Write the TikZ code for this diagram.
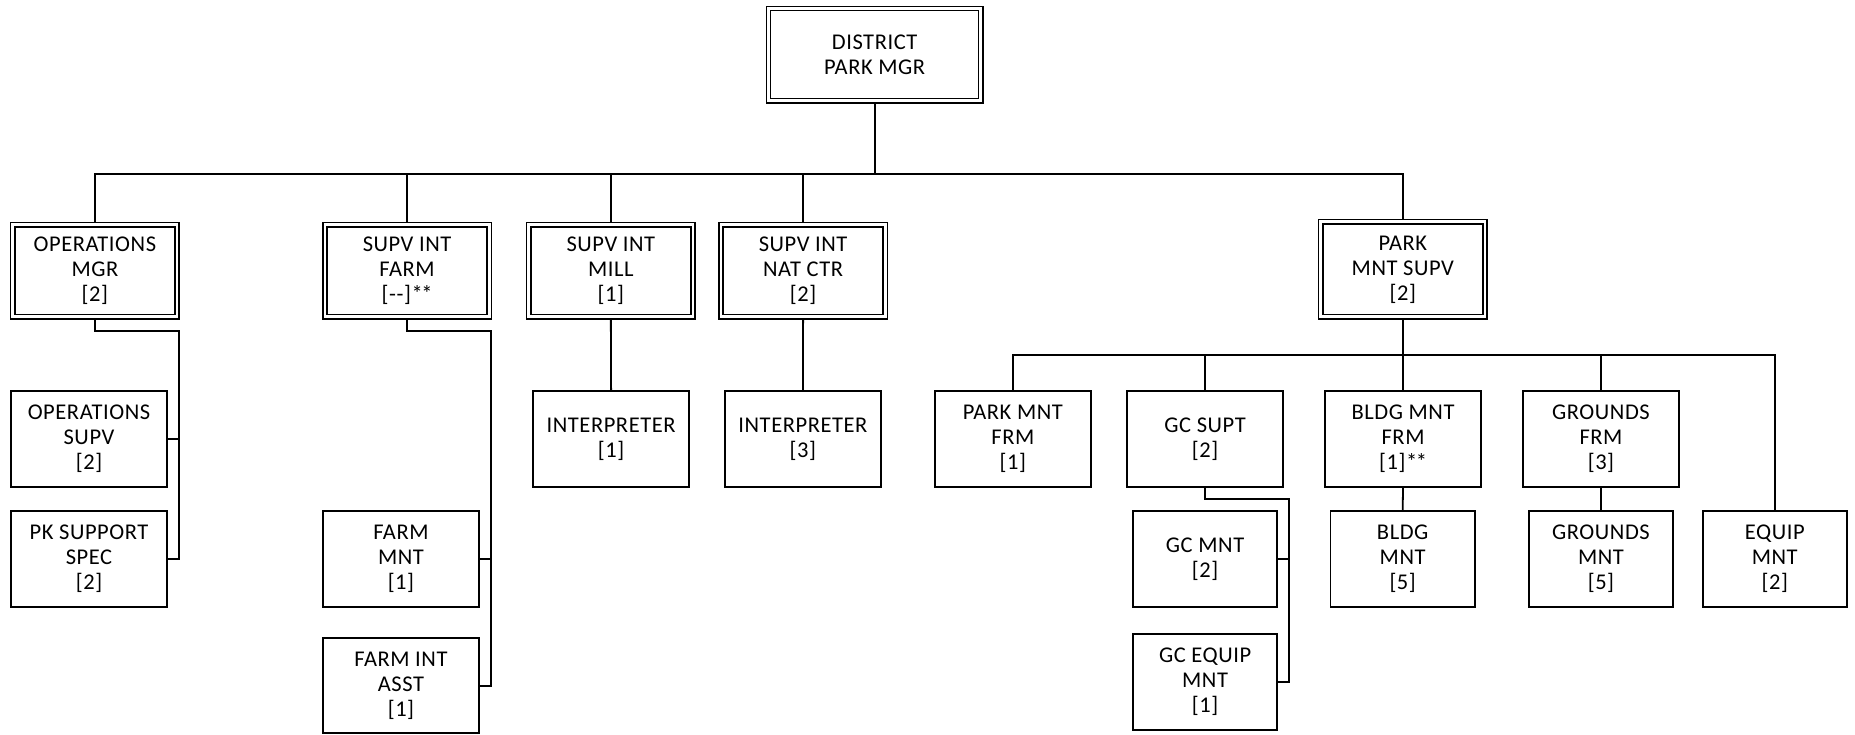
\documentclass[tikz,border=0pt]{standalone}
\usepackage{fontspec}
\setmainfont{Carlito}[LetterSpace=2.5]
\newcommand{\stars}{*\kern-1.5pt*}
\begin{document}
\begin{tikzpicture}[x=1pt,y=-1pt,
  every node/.style={font=\fontsize{22.5}{25}\selectfont, align=center},
  unit/.style={draw, line width=1.8pt, inner sep=0pt, fill=white,
               minimum width=156.3pt, minimum height=96pt},
  narrow/.style={unit, minimum width=144.2pt},
  head/.style={draw, line width=1.5pt, double, double distance=2.8pt,
               inner sep=0pt, minimum width=164.1pt, minimum height=92pt,
               outer sep=2.9pt},
  link/.style={line width=1.8pt}]
\useasboundingbox (0,0) rectangle (1855,734);

% top of the chart
\node[head, minimum width=212.4pt, minimum height=92.4pt] (dpm) at (874.65,54.65) {DISTRICT\\PARK MGR};

% second tier (supervisors)
\node[head] (opsmgr) at (94.9,270.85)  {OPERATIONS\\MGR\\{[2]}};
\node[head] (farm)   at (407.1,270.85) {SUPV INT\\FARM\\{[-{}-]\stars}};
\node[head] (mill)   at (610.85,270.85) {SUPV INT\\MILL\\{[1]}};
\node[head] (natctr) at (803.1,270.85) {SUPV INT\\NAT CTR\\{[2]}};
\node[head, minimum height=95pt] (pms) at (1402.85,269.35) {PARK\\MNT SUPV\\{[2]}};

% third tier
\node[unit] (opssupv) at (89,439)      {OPERATIONS\\SUPV\\{[2]}};
\node[unit] (intmill) at (611.1,439)   {INTERPRETER\\{[1]}};
\node[unit] (intnat)  at (802.9,439)   {INTERPRETER\\{[3]}};
\node[unit] (pmfrm)   at (1012.85,439) {PARK MNT\\FRM\\{[1]}};
\node[unit] (gcsupt)  at (1205.05,439) {GC SUPT\\{[2]}};
\node[unit] (bldgfrm) at (1403.05,439) {BLDG MNT\\FRM\\{[1]\stars}};
\node[unit] (grfrm)   at (1600.95,439) {GROUNDS\\FRM\\{[3]}};

% fourth tier
\node[unit] (pkspec)   at (89,558.85)     {PK SUPPORT\\SPEC\\{[2]}};
\node[unit] (farmmnt)  at (400.95,558.85) {FARM\\MNT\\{[1]}};
\node[narrow] (gcmnt)  at (1205.1,558.85) {GC MNT\\{[2]}};
\node[narrow] (bldgmnt) at (1402.65,558.85) {BLDG\\MNT\\{[5]}};
\node[narrow] (grmnt)  at (1600.95,558.85) {GROUNDS\\MNT\\{[5]}};
\node[narrow] (equip)  at (1774.75,558.85) {EQUIP\\MNT\\{[2]}};

% fifth tier
\node[unit, minimum height=94.7pt] (farmasst) at (400.95,685.65) {FARM INT\\ASST\\{[1]}};
\node[narrow] (gcequip) at (1205.1,682) {GC EQUIP\\MNT\\{[1]}};

% main bus under the district manager
\coordinate (topbus) at (874.65,174);
\draw[link] (dpm.south) -- (topbus);
\draw[link] (opsmgr.north) |- (pms.north |- topbus) -- (pms.north);
\foreach \n in {farm,mill,natctr}
  \draw[link] (\n.north) -- (\n.north |- topbus);

% operations side rail
\coordinate (opsjog) at (178.7,331);
\draw[link] (opsmgr.south) |- (opsjog) |- (pkspec.east);
\draw[link] (opssupv.east) -- (opssupv.east -| opsjog);

% farm side rail
\coordinate (farmjog) at (491.3,331);
\draw[link] (farm.south) |- (farmjog) |- (farmasst.east);
\draw[link] (farmmnt.east) -- (farmmnt.east -| farmjog);

% interpreters
\draw[link] (mill.south) -- (intmill.north);
\draw[link] (natctr.south) -- (intnat.north);

% maintenance bus
\coordinate (lowbus) at (1402.85,355);
\draw[link] (pms.south) -- (lowbus);
\draw[link] (pmfrm.north) |- (equip.north |- lowbus) -- (equip.north);
\foreach \n in {gcsupt,bldgfrm,grfrm}
  \draw[link] (\n.north) -- (\n.north |- lowbus);
\draw[link] (bldgfrm.south) -- (bldgmnt.north);
\draw[link] (grfrm.south) -- (grmnt.north);

% golf course side rail
\coordinate (gcjog) at (1288.8,499);
\draw[link] (gcsupt.south) |- (gcjog) |- (gcequip.east);
\draw[link] (gcmnt.east) -- (gcmnt.east -| gcjog);
\end{tikzpicture}
\end{document}
